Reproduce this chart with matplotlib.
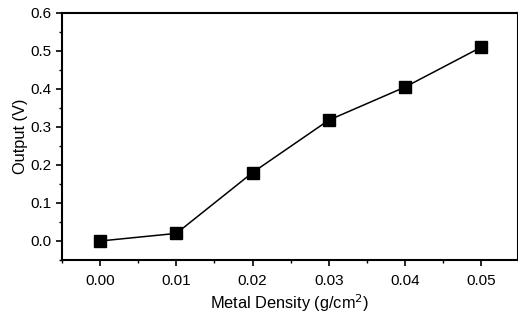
import matplotlib
matplotlib.use("Agg")
import matplotlib.pyplot as plt
from matplotlib.ticker import MultipleLocator

density = [0.00, 0.01, 0.02, 0.03, 0.04, 0.05]
output_v = [0.0, 0.02, 0.18, 0.318, 0.405, 0.51]

plt.rcParams['font.family'] = ['Liberation Sans', 'DejaVu Sans']

fig = plt.figure(figsize=(5.18, 3.20), dpi=100)
ax = fig.add_axes([0.1197, 0.1875, 0.88, 0.772])

ax.plot(density, output_v, color='black', lw=1.1, marker='s', ms=9,
        markerfacecolor='black', markeredgecolor='black')

ax.set_xlim(-0.005, 0.0548)
ax.set_ylim(-0.05, 0.6)
ax.xaxis.set_major_locator(MultipleLocator(0.01))
ax.xaxis.set_minor_locator(MultipleLocator(0.005))
ax.yaxis.set_major_locator(MultipleLocator(0.1))
ax.yaxis.set_minor_locator(MultipleLocator(0.05))
ax.xaxis.set_major_formatter(plt.FormatStrFormatter('%.2f'))
ax.yaxis.set_major_formatter(plt.FormatStrFormatter('%.1f'))

ax.tick_params(which='major', direction='out', length=4, width=1.2, labelsize=11)
ax.tick_params(axis='x', which='major', pad=6)
ax.tick_params(which='minor', direction='out', length=2.5, width=1)
for s in ax.spines.values():
    s.set_linewidth(1.5)

ax.set_xlabel('Metal Density (g/cm$^2$)', fontsize=11.8, labelpad=3)
ax.set_ylabel('Output (V)', fontsize=11.8, labelpad=2)

fig.savefig('out.png', dpi=100)
